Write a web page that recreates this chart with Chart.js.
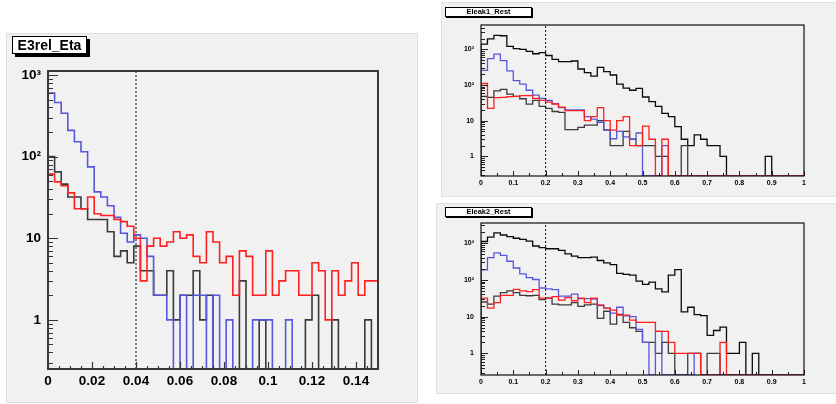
<!DOCTYPE html>
<html>
<head>
<meta charset="utf-8">
<script src="https://cdn.jsdelivr.net/npm/chart.js@4.4.1/dist/chart.umd.min.js"></script>
<style>
body{margin:0;background:#fff;width:836px;height:404px;position:relative;overflow:hidden;font-family:"Liberation Sans",Arial,sans-serif;}
.pad{position:absolute;background:#f1f1f1;box-shadow:0 0 0 1px #dfdfdf;}
.pad canvas{position:absolute;left:0;top:0;}
.title{position:absolute;box-sizing:border-box;background:#fff;border:1px solid #000;font-weight:bold;text-align:center;white-space:nowrap;color:#000;}
</style>
</head>
<body>
<div class="pad" style="left:7px;top:34px;width:410px;height:368px">
  <canvas id="cEta" width="410" height="368"></canvas>
  <div class="title" style="left:5px;top:2px;width:75px;height:18px;line-height:16px;font-size:14px;box-shadow:3px 3px 0 #000">E3rel_Eta</div>
</div>
<div class="pad" style="left:442px;top:3px;width:394px;height:193px">
  <canvas id="cLeak1" width="394" height="193"></canvas>
  <div class="title" style="left:3px;top:4px;width:87px;height:10px;line-height:8px;font-size:7.5px;box-shadow:1px 1px 0 #000">Eleak1_Rest</div>
</div>
<div class="pad" style="left:437px;top:204px;width:399px;height:189px">
  <canvas id="cLeak2" width="399" height="189"></canvas>
  <div class="title" style="left:8px;top:3px;width:87px;height:10px;line-height:8px;font-size:7.5px;box-shadow:1px 1px 0 #000">Eleak2_Rest</div>
</div>
<script>
// ---- E3rel_Eta : 50 bins, 0 .. 0.15
var etaRange = [0, 0.15];
var etaTicks = [0, 0.02, 0.04, 0.06, 0.08, 0.1, 0.12, 0.14];
var etaCut = 0.04;
var etaBlue = [600, 460, 340, 210, 152, 115, 75, 37, 32, 25, 18, 11.5, 9, 11, 10, 6, 2, 2, 1, 0,
               2, 0, 2, 2, 0, 2, 0, 1, 0, 0, 0, 1, 1, 1, 0, 0, 1, 0, 0, 0,
               0, 0, 0, 0, 0, 0, 0, 0, 0, 0];
var etaRed = [61, 49, 44, 36, 23, 23, 32, 20, 19, 19, 17, 16, 14, 10, 3, 8, 10, 8, 9, 12,
              10, 11, 6, 5, 12, 9, 5, 6, 2, 7, 6, 2, 2, 7, 2, 3, 4, 4, 2, 2,
              5, 4, 1, 4, 2, 3, 5, 2, 3, 3];
var etaBlack = [100, 65, 46, 32, 32, 23, 17, 17, 17, 12, 6, 7, 5, 8, 4, 4, 2, 2, 4, 1,
                2, 2, 4, 1, 2, 0, 0, 0, 0, 3, 0, 0, 1, 0, 0, 0, 0, 0, 0, 1,
                2, 0, 0, 1, 0, 0, 0, 0, 1, 0];

// ---- Eleak1_Rest / Eleak2_Rest : 50 bins, 0 .. 1
var leakRange = [0, 1];
var leakTicks = [0, 0.1, 0.2, 0.3, 0.4, 0.5, 0.6, 0.7, 0.8, 0.9, 1];
var leakCut = 0.2;
var leak1Top = [1400, 1950, 2450, 2400, 1200, 1050, 1000, 880, 750, 810, 670, 525, 450, 450, 470, 280, 222, 178, 310, 235,
                190, 105, 82, 71, 80, 46, 34, 25, 16, 13, 6.8, 3, 2, 4, 3, 2, 2, 1, 0, 0,
                0, 0, 0, 0, 1, 0, 0, 0, 0, 0];
var leak1Blue = [255, 550, 730, 480, 248, 133, 105, 71, 52, 42, 37, 30, 23, 20, 20, 20, 13, 11, 9, 5.4,
                 3.1, 5, 3.5, 3, 4.5, 0, 0, 0, 2, 0, 0, 0, 0, 0, 0, 0, 0, 0, 0, 0,
                 0, 0, 0, 0, 0, 0, 0, 0, 0, 0];
var leak1Red = [110, 22, 44, 45, 47, 48, 50, 50, 42, 37, 33, 29, 24, 19, 19, 19, 10, 13, 23, 10,
                5.4, 10, 13, 2, 2, 7, 3, 0, 3, 0, 0, 0, 0, 0, 0, 0, 0, 0, 0, 0,
                0, 0, 0, 0, 0, 0, 0, 0, 0, 0];
var leak1Gray = [48, 45, 68, 75, 55, 48, 41, 29, 37, 25, 22, 18, 17, 5.6, 5.6, 6.5, 7.5, 7.5, 10, 5.5,
                 2, 2, 5, 3, 2, 2, 2, 1, 1, 0, 0, 2, 0, 0, 0, 0, 0, 0, 0, 0,
                 0, 0, 0, 0, 0, 0, 0, 0, 0, 0];
var leak2Top = [1100, 1450, 1880, 1650, 1500, 1350, 1260, 1130, 830, 750, 700, 700, 630, 510, 440, 400, 400, 415, 335, 290,
                260, 150, 140, 134, 92, 75, 87, 57, 47, 134, 190, 13.4, 18, 11.3, 10.6, 3.1, 4.2, 5.2, 1, 1,
                2, 0, 1, 0, 0, 0, 0, 0, 0, 0];
var leak2Blue = [188, 400, 540, 460, 320, 210, 145, 115, 102, 60, 57, 54, 36, 36, 41, 31, 31, 30, 20, 17,
                 12.5, 18, 10.5, 10, 4.5, 2, 0, 4, 0, 0, 0, 0, 0, 1, 0, 0, 0, 0, 0, 0,
                 0, 0, 0, 0, 0, 0, 0, 0, 0, 0];
var leak2Red = [32, 17, 24, 38, 38, 55, 50, 48, 54, 32, 32, 35, 28, 33, 27, 32, 24, 32, 21, 17,
                15, 11, 11, 8, 7, 7, 7, 4, 4, 2, 1, 1, 1, 1, 0, 0, 0, 2, 0, 0,
                0, 0, 0, 0, 0, 0, 0, 0, 0, 0];
var leak2Gray = [25, 22, 36, 45, 50, 45, 38, 37, 38, 29, 32, 22, 21, 21, 24, 19, 21, 22, 9, 14,
                 6.3, 11.5, 7, 5, 4, 2, 2, 1, 2, 1, 0, 0, 1, 1, 0, 1, 1, 0, 0, 0,
                 0, 0, 0, 0, 0, 0, 0, 0, 0, 0];

var decadeLabels = {1: '1', 10: '10', 100: '10²', 1000: '10³'};

// histogram outline, empty bins drawn on the axis like ROOT does
function histPoints(vals, range, ymin){
    var w = (range[1] - range[0]) / vals.length;
    var pts = [{x: range[0], y: ymin}];
    for (var i = 0; i < vals.length; i++) {
        pts.push({x: range[0] + i * w, y: Math.max(vals[i], ymin)});
    }
    pts.push({x: range[1], y: Math.max(vals[vals.length - 1], ymin)});
    pts.push({x: range[1], y: ymin});
    return pts;
}

// ROOT style frame and inward tick marks
var rootAxes = {
    id: 'rootAxes',
    afterDatasetsDraw: function(chart, args, o){
        var ctx = chart.ctx, a = chart.chartArea, x = chart.scales.x, y = chart.scales.y;
        ctx.save();
        ctx.strokeStyle = o.tickColor;
        ctx.lineWidth = o.tickWidth;
        ctx.beginPath();
        var n = Math.round((x.max - x.min) / o.xMinor);
        for (var i = 0; i <= n; i++) {
            var v = x.min + i * o.xMinor;
            var px = Math.round(x.getPixelForValue(v)) + 0.5;
            var r = v / o.xMajor;
            var len = Math.abs(r - Math.round(r)) < 1e-6 ? o.xMajorLen : o.xMinorLen;
            ctx.moveTo(px, a.bottom);
            ctx.lineTo(px, a.bottom - len);
        }
        for (var d = Math.floor(Math.log10(y.min)); d <= Math.ceil(Math.log10(y.max)); d++) {
            for (var m = 1; m <= 9; m++) {
                var val = m * Math.pow(10, d);
                if (val < y.min || val > y.max) continue;
                var py = Math.round(y.getPixelForValue(val)) + 0.5;
                ctx.moveTo(a.left, py);
                ctx.lineTo(a.left + (m === 1 ? o.yMajorLen : o.yMinorLen), py);
            }
        }
        ctx.stroke();
        ctx.strokeStyle = o.frameColor;
        ctx.lineWidth = o.frameWidth;
        ctx.strokeRect(a.left, a.top, a.right - a.left, a.bottom - a.top);
        ctx.restore();
    }
};

function makeChart(id, s){
    var datasets = [{
        data: [{x: s.cut, y: s.yMin}, {x: s.cut, y: s.yMax}],
        borderColor: s.cutColor, borderWidth: s.cutWidth, borderDash: s.cutDash
    }];
    s.series.forEach(function(h){
        datasets.push({
            data: histPoints(h.vals, s.range, s.yMin),
            borderColor: h.color, borderWidth: s.lineWidth, stepped: true
        });
    });
    var tickFont = {family: '"Liberation Sans", Arial, sans-serif', weight: 'bold', size: s.fontSize};
    return new Chart(document.getElementById(id), {
        type: 'line',
        data: {datasets: datasets},
        options: {
            responsive: false,
            animation: false,
            devicePixelRatio: 1,
            parsing: false,
            elements: {point: {radius: 0}, line: {tension: 0, fill: false}},
            layout: {padding: {top: s.padTop, right: s.padRight, left: 0, bottom: 0}},
            plugins: {
                legend: {display: false},
                tooltip: {enabled: false},
                rootAxes: s.axes
            },
            scales: {
                x: {
                    type: 'linear', min: s.range[0], max: s.range[1],
                    grid: {display: false, drawTicks: false}, border: {display: false},
                    afterBuildTicks: function(sc){ sc.ticks = s.xTicks.map(function(v){ return {value: v}; }); },
                    afterFit: function(sc){ sc.height = s.xHeight; },
                    ticks: {
                        padding: s.xPad, color: '#000', font: tickFont, maxRotation: 0, autoSkip: false,
                        callback: function(v){ return String(+v.toFixed(2)); }
                    }
                },
                y: {
                    type: 'logarithmic', min: s.yMin, max: s.yMax,
                    grid: {display: false, drawTicks: false}, border: {display: false},
                    afterBuildTicks: function(sc){
                        sc.ticks = [1, 10, 100, 1000].map(function(v){ return {value: v}; });
                    },
                    afterFit: function(sc){ sc.width = s.yWidth; },
                    ticks: {
                        padding: s.yPad, color: '#000', font: tickFont,
                        callback: function(v){ return decadeLabels[v]; }
                    }
                }
            }
        },
        plugins: [rootAxes]
    });
}

makeChart('cEta', {
    range: etaRange, xTicks: etaTicks, cut: etaCut,
    yMin: 0.25, yMax: 1120,
    padTop: 37, padRight: 39, yWidth: 41, xHeight: 33,
    xPad: 4, yPad: 7, fontSize: 13.5, lineWidth: 1.6,
    cutColor: '#555', cutWidth: 1.5, cutDash: [2, 2],
    series: [
        {vals: etaRed, color: '#ff1f1f'},
        {vals: etaBlue, color: '#5757dc'},
        {vals: etaBlack, color: '#3a3a3a'}
    ],
    axes: {tickColor: '#333', tickWidth: 1.2, xMinor: 0.005, xMajor: 0.02, xMajorLen: 7, xMinorLen: 3,
           yMajorLen: 10, yMinorLen: 5, frameColor: '#3a3a3a', frameWidth: 2}
});

var leakAxes = {tickColor: '#222', tickWidth: 1, xMinor: 0.05, xMajor: 0.1, xMajorLen: 5, xMinorLen: 3,
                yMajorLen: 7, yMinorLen: 4, frameColor: '#111', frameWidth: 1.2};

makeChart('cLeak1', {
    range: leakRange, xTicks: leakTicks, cut: leakCut,
    yMin: 0.28, yMax: 4800,
    padTop: 22, padRight: 32, yWidth: 39, xHeight: 20,
    xPad: 3, yPad: 7, fontSize: 7, lineWidth: 1.3,
    cutColor: '#111', cutWidth: 1, cutDash: [2, 2],
    series: [
        {vals: leak1Red, color: '#ff1f1f'},
        {vals: leak1Blue, color: '#5757dc'},
        {vals: leak1Gray, color: '#3c3c3c'},
        {vals: leak1Top, color: '#0a0a0a'}
    ],
    axes: leakAxes
});

makeChart('cLeak2', {
    range: leakRange, xTicks: leakTicks, cut: leakCut,
    yMin: 0.26, yMax: 3500,
    padTop: 19, padRight: 32, yWidth: 44, xHeight: 18,
    xPad: 3, yPad: 7, fontSize: 7, lineWidth: 1.3,
    cutColor: '#111', cutWidth: 1, cutDash: [2, 2],
    series: [
        {vals: leak2Red, color: '#ff1f1f'},
        {vals: leak2Blue, color: '#5757dc'},
        {vals: leak2Gray, color: '#3c3c3c'},
        {vals: leak2Top, color: '#0a0a0a'}
    ],
    axes: leakAxes
});
</script>
</body>
</html>
